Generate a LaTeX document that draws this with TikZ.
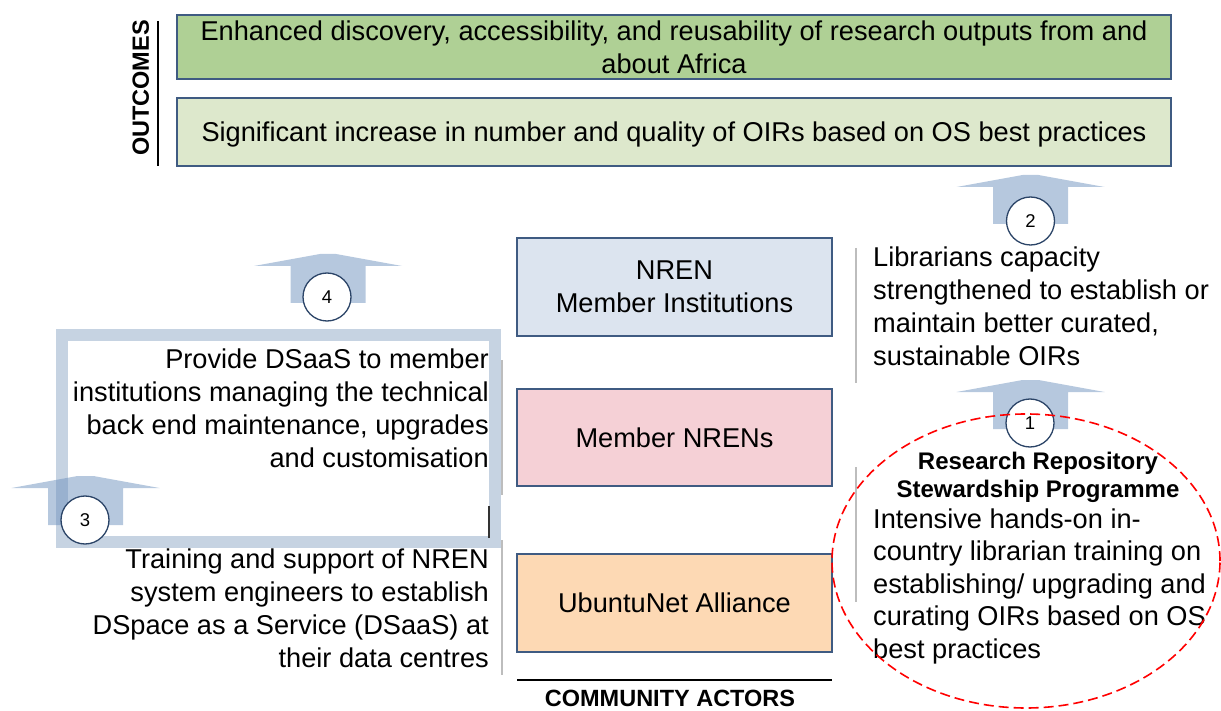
\documentclass[tikz,border=0pt]{standalone}
\usepackage{fontspec}
\setmainfont{Liberation Sans}

\definecolor{boxline}{HTML}{3F5B82}
\definecolor{outA}{HTML}{AFD095}
\definecolor{outB}{HTML}{DDE8CC}
\definecolor{instfill}{HTML}{DCE4EF}
\definecolor{nrenfill}{HTML}{F5D0D6}
\definecolor{ubfill}{HTML}{FDD9B4}
\definecolor{arrowfill}{HTML}{6D91BE}
\definecolor{framecol}{HTML}{C6D3E2}
\definecolor{sepgrey}{HTML}{BDBDBD}
\definecolor{circline}{HTML}{2B4467}

% fixed-height struts for the first line of multi-line text blocks
\newcommand{\lstrut}{\rule{0pt}{20pt}}
\newcommand{\tstrut}{\rule{0pt}{18pt}}

\tikzset{
  box/.style={draw=boxline, line width=1.4pt, inner sep=0pt, align=center,
    font=\fontsize{27.2}{33}\selectfont},
  outbox/.style={box, minimum width=994pt},
  actorbox/.style={box, minimum width=315pt},
  body/.style={inner sep=0pt, font=\fontsize{27.2}{33}\selectfont},
  heading/.style={inner sep=0pt, font=\bfseries\fontsize{23.5}{28}\selectfont},
  numcirc/.style={circle, draw=circline, line width=1.3pt, fill=white,
    minimum size=48pt, inner sep=0pt, font=\fontsize{18.5}{20}\selectfont},
  sepline/.style={draw=sepgrey, line width=1.8pt},
  blockup/.pic={
    \fill[arrowfill, fill opacity=0.5]
      (-37.5,37) -- (-37.5,0) -- (-74,0) -- (-8,-12) -- (8,-12)
      -- (74,0) -- (37.5,0) -- (37.5,37) -- cycle;
  }
}

\begin{document}
\begin{tikzpicture}[x=1pt,y=-1pt]
\useasboundingbox (0,0) rectangle (1221,711);

% ---- outcomes ----
\node[heading, rotate=90, text depth=0pt] (outlabel) at (140.6,88) {OUTCOMES};
\coordinate (outtop) at (158,21);
\coordinate (outbot) at (158,166);
\draw[black, line width=1.5pt] (outtop) -- (outbot);

\node[outbox, fill=outA, minimum height=64pt] (outA) at (674,47)
  {Enhanced discovery, accessibility, and reusability of research outputs from and\\about Africa};
\node[outbox, fill=outB, minimum height=68pt, text depth=0pt] (outB) at (674,132)
  {Significant increase in number and quality of OIRs based on OS best practices};

% ---- community actors ----
\node[actorbox, fill=instfill, minimum height=98pt] (inst) at (674.5,287)
  {NREN\\Member Institutions};
\node[actorbox, fill=nrenfill, minimum height=97pt, text depth=0pt] (nren) at (674.5,437.5)
  {Member NRENs};
\node[actorbox, fill=ubfill, minimum height=98pt, text depth=0pt] (ubnt) at (674.5,603)
  {UbuntuNet Alliance};

\coordinate (actL) at (517,680);
\coordinate (actR) at (832,680);
\draw[black, line width=1.8pt] (actL) -- (actR);
\node[heading, anchor=base] (actors) at (670,706) {COMMUNITY ACTORS};

% ---- separator lines beside the text blocks ----
\coordinate (s1a) at (502,360); \coordinate (s1b) at (502,495);
\coordinate (s2a) at (502,540); \coordinate (s2b) at (502,675);
\coordinate (s3a) at (856,248); \coordinate (s3b) at (856,383);
\coordinate (s4a) at (856,467); \coordinate (s4b) at (856,602);
\draw[sepline] (s1a) -- (s1b);
\draw[sepline] (s2a) -- (s2b);
\draw[sepline] (s3a) -- (s3b);
\draw[sepline] (s4a) -- (s4b);

% ---- highlighted DSaaS frame ----
\draw[framecol, line width=12pt] (62,335) rectangle (495,542);
\coordinate (darkA) at (489,506);
\coordinate (darkB) at (489,538);
\draw[black!80, line width=1.8pt] (darkA) -- (darkB);

% ---- left text blocks ----
\node[body, anchor=north east, align=right] (dsaas) at (489,348)
  {\lstrut Provide DSaaS to member\\institutions managing the technical\\back end maintenance, upgrades\\and customisation};
\node[body, anchor=north east, align=right] (training) at (489,548)
  {\lstrut Training and support of NREN\\system engineers to establish\\DSpace as a Service (DSaaS) at\\their data centres};

% ---- right text blocks ----
\node[body, anchor=north west, align=left] (capacity) at (873,246)
  {\lstrut Librarians capacity\\strengthened to establish or\\maintain better curated,\\sustainable OIRs};
\node[heading, anchor=north, align=center, font=\bfseries\fontsize{24}{28}\selectfont] (rrsp) at (1038,451)
  {\tstrut Research Repository\\Stewardship Programme};
\node[body, anchor=north west, align=left, font=\fontsize{27.2}{32.5}\selectfont] (handson) at (873,508)
  {\lstrut Intensive hands-on in-\\country librarian training on\\establishing/ upgrading and\\curating OIRs based on OS\\best practices};

% ---- numbered block arrows ----
\pic at (1030.5,187) {blockup};
\pic at (1030.5,392) {blockup};
\pic at (85.5,488) {blockup};
\pic at (328,266) {blockup};

\node[numcirc] (n1) at (1030,423) {1};
\node[numcirc] (n2) at (1030.5,221) {2};
\node[numcirc] (n3) at (85,520) {3};
\node[numcirc] (n4) at (327,297) {4};

% ---- programme highlight ----
\draw[red, line width=1.6pt, dash pattern=on 10pt off 5pt] (1026,561) ellipse [x radius=194pt, y radius=147pt];

\end{tikzpicture}
\end{document}
